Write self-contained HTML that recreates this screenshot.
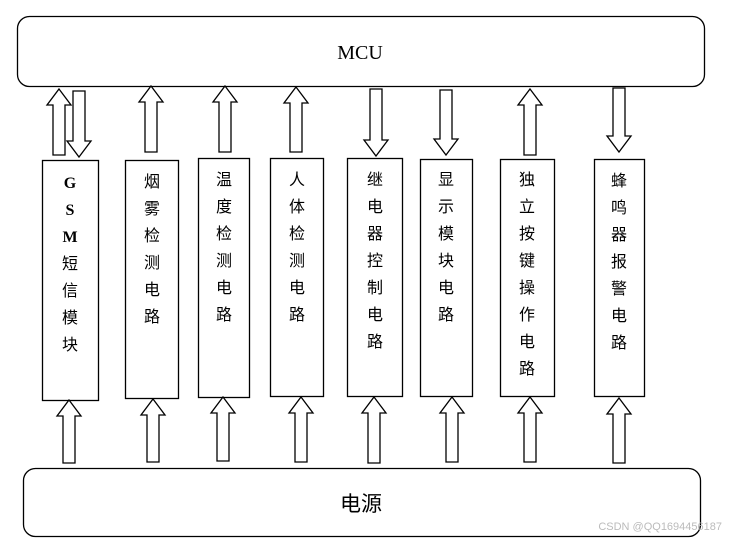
<!DOCTYPE html>
<html><head><meta charset="utf-8"><style>html,body{margin:0;padding:0;background:#fff}svg{display:block}</style></head>
<body>
<svg width="747" height="538" viewBox="0 0 747 538" xmlns="http://www.w3.org/2000/svg">
<g fill="#fff" stroke="#000" stroke-width="1.3">
<rect x="17.5" y="16.5" width="687" height="70" rx="12"/>
<rect x="23.5" y="468.5" width="677" height="68" rx="12"/>
<rect x="42.5" y="160.5" width="56" height="240"/>
<rect x="125.5" y="160.5" width="53" height="238"/>
<rect x="198.5" y="158.5" width="51" height="239"/>
<rect x="270.5" y="158.5" width="53" height="238"/>
<rect x="347.5" y="158.5" width="55" height="238"/>
<rect x="420.5" y="159.5" width="52" height="237"/>
<rect x="500.5" y="159.5" width="54" height="237"/>
<rect x="594.5" y="159.5" width="50" height="237"/>
<!-- up arrows top -->
<polygon points="59,89 71,105 65,105 65,155 53,155 53,105 47,105"/>
<polygon points="151,86 163,102 157,102 157,152 145,152 145,102 139,102"/>
<polygon points="225,86 237,102 231,102 231,152 219,152 219,102 213,102"/>
<polygon points="296,87 308,103 302,103 302,152 290,152 290,103 284,103"/>
<polygon points="530,89 542,105 536,105 536,155 524,155 524,105 518,105"/>
<!-- down arrows top -->
<polygon points="79,157 91,141 85,141 85,91 73,91 73,141 67,141"/>
<polygon points="376,156 388,140 382,140 382,89 370,89 370,140 364,140"/>
<polygon points="446,155 458,139 452,139 452,90 440,90 440,139 434,139"/>
<polygon points="619,152 631,136 625,136 625,88 613,88 613,136 607,136"/>
<!-- up arrows bottom -->
<polygon points="69,400 81,416 75,416 75,463 63,463 63,416 57,416"/>
<polygon points="153,399 165,415 159,415 159,462 147,462 147,415 141,415"/>
<polygon points="223,397 235,413 229,413 229,461 217,461 217,413 211,413"/>
<polygon points="301,397 313,413 307,413 307,462 295,462 295,413 289,413"/>
<polygon points="374,397 386,413 380,413 380,463 368,463 368,413 362,413"/>
<polygon points="452,397 464,413 458,413 458,462 446,462 446,413 440,413"/>
<polygon points="530,397 542,413 536,413 536,462 524,462 524,413 518,413"/>
<polygon points="619,398 631,414 625,414 625,463 613,463 613,414 607,414"/>
</g>
<g font-family="'Liberation Serif','Noto Serif CJK SC',serif" text-anchor="middle" fill="#000">
<text x="360" y="59" font-size="20">MCU</text>
<text x="361" y="511" font-size="21" font-family="'Liberation Sans','Noto Sans CJK SC',sans-serif">电源</text>
</g>
<g font-family="'Liberation Serif','Noto Sans CJK SC',serif" font-size="16" text-anchor="middle" fill="#000">
<text x="70" font-weight="bold"><tspan x="70" y="188">G</tspan><tspan x="70" y="215">S</tspan><tspan x="70" y="242">M</tspan></text>
<text x="70"><tspan x="70" y="269">短</tspan><tspan x="70" y="296">信</tspan><tspan x="70" y="323">模</tspan><tspan x="70" y="350">块</tspan></text>
<text><tspan x="152" y="187">烟</tspan><tspan x="152" y="214">雾</tspan><tspan x="152" y="241">检</tspan><tspan x="152" y="268">测</tspan><tspan x="152" y="295">电</tspan><tspan x="152" y="322">路</tspan></text>
<text><tspan x="224" y="185">温</tspan><tspan x="224" y="212">度</tspan><tspan x="224" y="239">检</tspan><tspan x="224" y="266">测</tspan><tspan x="224" y="293">电</tspan><tspan x="224" y="320">路</tspan></text>
<text><tspan x="297" y="185">人</tspan><tspan x="297" y="212">体</tspan><tspan x="297" y="239">检</tspan><tspan x="297" y="266">测</tspan><tspan x="297" y="293">电</tspan><tspan x="297" y="320">路</tspan></text>
<text><tspan x="375" y="185">继</tspan><tspan x="375" y="212">电</tspan><tspan x="375" y="239">器</tspan><tspan x="375" y="266">控</tspan><tspan x="375" y="293">制</tspan><tspan x="375" y="320">电</tspan><tspan x="375" y="347">路</tspan></text>
<text><tspan x="446" y="185">显</tspan><tspan x="446" y="212">示</tspan><tspan x="446" y="239">模</tspan><tspan x="446" y="266">块</tspan><tspan x="446" y="293">电</tspan><tspan x="446" y="320">路</tspan></text>
<text><tspan x="527" y="185">独</tspan><tspan x="527" y="212">立</tspan><tspan x="527" y="239">按</tspan><tspan x="527" y="266">键</tspan><tspan x="527" y="293">操</tspan><tspan x="527" y="320">作</tspan><tspan x="527" y="347">电</tspan><tspan x="527" y="374">路</tspan></text>
<text><tspan x="619" y="186">蜂</tspan><tspan x="619" y="213">鸣</tspan><tspan x="619" y="240">器</tspan><tspan x="619" y="267">报</tspan><tspan x="619" y="294">警</tspan><tspan x="619" y="321">电</tspan><tspan x="619" y="348">路</tspan></text>
</g>
<text x="722" y="530" text-anchor="end" font-family="'Liberation Sans',sans-serif" font-size="11" fill="#bbb">CSDN @QQ1694456187</text>
</svg>
</body></html>
